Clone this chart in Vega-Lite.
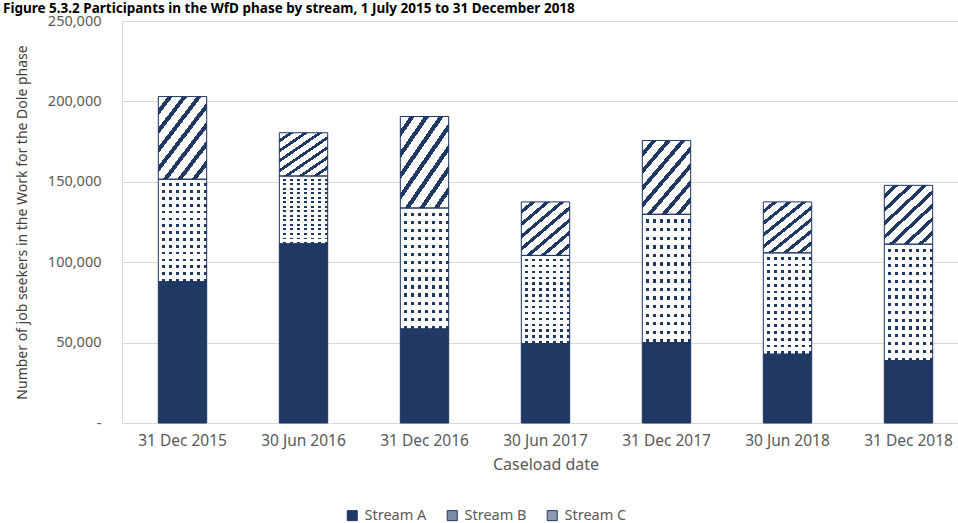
{
  "$schema": "https://vega.github.io/schema/vega-lite/v6.json",
  "autosize": "none",
  "padding": {"left": 122, "top": 21, "right": 0, "bottom": 100},
  "width": 836,
  "height": 402,
  "background": "white",
  "title": {
    "text": "Figure 5.3.2 Participants in the WfD phase by stream, 1 July 2015 to 31 December 2018",
    "anchor": "start",
    "frame": "group",
    "orient": "top",
    "offset": 0,
    "baseline": "alphabetic",
    "dx": -119,
    "dy": 13,
    "font": "Noto Sans",
    "fontSize": 13.5,
    "fontWeight": "bold",
    "color": "#000000"
  },
  "config": {
    "view": {"stroke": null},
    "font": "Noto Sans"
  },
  "data": {
    "values": [
      {"date": "31 Dec 2015", "stream": "Stream A", "value": 87800},
      {"date": "31 Dec 2015", "stream": "Stream B", "value": 63800},
      {"date": "31 Dec 2015", "stream": "Stream C", "value": 51400},
      {"date": "30 Jun 2016", "stream": "Stream A", "value": 111400},
      {"date": "30 Jun 2016", "stream": "Stream B", "value": 42200},
      {"date": "30 Jun 2016", "stream": "Stream C", "value": 26900},
      {"date": "31 Dec 2016", "stream": "Stream A", "value": 58500},
      {"date": "31 Dec 2016", "stream": "Stream B", "value": 75200},
      {"date": "31 Dec 2016", "stream": "Stream C", "value": 56900},
      {"date": "30 Jun 2017", "stream": "Stream A", "value": 49400},
      {"date": "30 Jun 2017", "stream": "Stream B", "value": 54800},
      {"date": "30 Jun 2017", "stream": "Stream C", "value": 33300},
      {"date": "31 Dec 2017", "stream": "Stream A", "value": 50000},
      {"date": "31 Dec 2017", "stream": "Stream B", "value": 79800},
      {"date": "31 Dec 2017", "stream": "Stream C", "value": 45900},
      {"date": "30 Jun 2018", "stream": "Stream A", "value": 42800},
      {"date": "30 Jun 2018", "stream": "Stream B", "value": 63000},
      {"date": "30 Jun 2018", "stream": "Stream C", "value": 31700},
      {"date": "31 Dec 2018", "stream": "Stream A", "value": 38800},
      {"date": "31 Dec 2018", "stream": "Stream B", "value": 72400},
      {"date": "31 Dec 2018", "stream": "Stream C", "value": 36600}
    ]
  },
  "transform": [
    {"stack": "value", "groupby": ["date"], "sort": [{"field": "stream", "order": "ascending"}], "as": ["y0", "y1"]}
  ],
  "encoding": {
    "x": {
      "field": "date",
      "type": "nominal",
      "sort": null,
      "scale": {"range": [0, 847], "paddingInner": 0.6, "paddingOuter": 0.3},
      "axis": {
        "title": "Caseload date",
        "labelAngle": 0,
        "labelFont": "Noto Sans",
        "labelFontSize": 15.5,
        "labelColor": "#595959",
        "labelPadding": 10,
        "ticks": false,
        "domainColor": "#d9d9d9",
        "domainWidth": 1,
        "titleFont": "Noto Sans",
        "titleFontSize": 16,
        "titleFontWeight": "normal",
        "titleColor": "#595959",
        "titlePadding": 8
      }
    },
    "y": {
      "field": "y1",
      "type": "quantitative",
      "scale": {"domain": [0, 250000]},
      "axis": {
        "title": "Number of job seekers in the Work for the Dole phase",
        "values": [0, 50000, 100000, 150000, 200000, 250000],
        "labelExpr": "datum.value === 0 ? '-' : format(datum.value, ',')",
        "labelFont": "Noto Sans",
        "labelFontSize": 14.5,
        "labelColor": "#595959",
        "labelPadding": 21,
        "ticks": false,
        "domain": true,
        "domainColor": "#d9d9d9",
        "gridColor": "#d9d9d9",
        "gridWidth": 1,
        "titleFont": "Noto Sans",
        "titleFontSize": 14,
        "titleFontWeight": "normal",
        "titleColor": "#404040",
        "titlePadding": 18
      }
    },
    "y2": {"field": "y0"}
  },
  "layer": [
    {
      "mark": {"type": "bar"},
      "encoding": {
        "color": {
          "field": "stream",
          "type": "nominal",
          "scale": {
            "domain": ["Stream A", "Stream B", "Stream C"],
            "range": ["#1f3864", "#7d8aa6", "#8f9bb3"]
          },
          "legend": {
            "title": null,
            "orient": "none",
            "direction": "horizontal",
            "legendX": 223,
            "legendY": 487,
            "symbolType": "square",
            "symbolSize": 100,
            "symbolStrokeColor": "#1f3864",
            "symbolStrokeWidth": 1,
            "labelFont": "Noto Sans",
            "labelFontSize": 14.5,
            "labelColor": "#595959",
            "labelOffset": 5,
            "columnPadding": 18
          }
        }
      }
    },
    {
      "transform": [{"filter": "datum.stream === 'Stream B'"}],
      "mark": {
        "type": "bar",
        "fill": {
          "gradient": "linear", "x1": 0, "y1": 0, "x2": 0, "y2": 1,
          "stops": [
            {"offset": 0, "color": "#ffffff"}, {"offset": 0.04, "color": "#ffffff"}, {"offset": 0.04, "color": "#1f3864"}, {"offset": 0.0667, "color": "#1f3864"},
            {"offset": 0.0667, "color": "#ffffff"}, {"offset": 0.1067, "color": "#ffffff"}, {"offset": 0.1067, "color": "#1f3864"}, {"offset": 0.1333, "color": "#1f3864"},
            {"offset": 0.1333, "color": "#ffffff"}, {"offset": 0.1733, "color": "#ffffff"}, {"offset": 0.1733, "color": "#1f3864"}, {"offset": 0.2, "color": "#1f3864"},
            {"offset": 0.2, "color": "#ffffff"}, {"offset": 0.24, "color": "#ffffff"}, {"offset": 0.24, "color": "#1f3864"}, {"offset": 0.2667, "color": "#1f3864"},
            {"offset": 0.2667, "color": "#ffffff"}, {"offset": 0.3067, "color": "#ffffff"}, {"offset": 0.3067, "color": "#1f3864"}, {"offset": 0.3333, "color": "#1f3864"},
            {"offset": 0.3333, "color": "#ffffff"}, {"offset": 0.3733, "color": "#ffffff"}, {"offset": 0.3733, "color": "#1f3864"}, {"offset": 0.4, "color": "#1f3864"},
            {"offset": 0.4, "color": "#ffffff"}, {"offset": 0.44, "color": "#ffffff"}, {"offset": 0.44, "color": "#1f3864"}, {"offset": 0.4667, "color": "#1f3864"},
            {"offset": 0.4667, "color": "#ffffff"}, {"offset": 0.5067, "color": "#ffffff"}, {"offset": 0.5067, "color": "#1f3864"}, {"offset": 0.5333, "color": "#1f3864"},
            {"offset": 0.5333, "color": "#ffffff"}, {"offset": 0.5733, "color": "#ffffff"}, {"offset": 0.5733, "color": "#1f3864"}, {"offset": 0.6, "color": "#1f3864"},
            {"offset": 0.6, "color": "#ffffff"}, {"offset": 0.64, "color": "#ffffff"}, {"offset": 0.64, "color": "#1f3864"}, {"offset": 0.6667, "color": "#1f3864"},
            {"offset": 0.6667, "color": "#ffffff"}, {"offset": 0.7067, "color": "#ffffff"}, {"offset": 0.7067, "color": "#1f3864"}, {"offset": 0.7333, "color": "#1f3864"},
            {"offset": 0.7333, "color": "#ffffff"}, {"offset": 0.7733, "color": "#ffffff"}, {"offset": 0.7733, "color": "#1f3864"}, {"offset": 0.8, "color": "#1f3864"},
            {"offset": 0.8, "color": "#ffffff"}, {"offset": 0.84, "color": "#ffffff"}, {"offset": 0.84, "color": "#1f3864"}, {"offset": 0.8667, "color": "#1f3864"},
            {"offset": 0.8667, "color": "#ffffff"}, {"offset": 0.9067, "color": "#ffffff"}, {"offset": 0.9067, "color": "#1f3864"}, {"offset": 0.9333, "color": "#1f3864"},
            {"offset": 0.9333, "color": "#ffffff"}, {"offset": 0.9733, "color": "#ffffff"}, {"offset": 0.9733, "color": "#1f3864"}, {"offset": 1, "color": "#1f3864"}
          ]
        }
      }
    },
    {
      "transform": [{"filter": "datum.stream === 'Stream B'"}],
      "mark": {
        "type": "bar",
        "fill": {
          "gradient": "linear", "x1": 0, "y1": 0, "x2": 1, "y2": 0,
          "stops": [
            {"offset": 0, "color": "#ffffff"}, {"offset": 0.0857, "color": "#ffffff"}, {"offset": 0.0857, "color": "rgba(255,255,255,0)"}, {"offset": 0.1429, "color": "rgba(255,255,255,0)"},
            {"offset": 0.1429, "color": "#ffffff"}, {"offset": 0.2286, "color": "#ffffff"}, {"offset": 0.2286, "color": "rgba(255,255,255,0)"}, {"offset": 0.2857, "color": "rgba(255,255,255,0)"},
            {"offset": 0.2857, "color": "#ffffff"}, {"offset": 0.3714, "color": "#ffffff"}, {"offset": 0.3714, "color": "rgba(255,255,255,0)"}, {"offset": 0.4286, "color": "rgba(255,255,255,0)"},
            {"offset": 0.4286, "color": "#ffffff"}, {"offset": 0.5143, "color": "#ffffff"}, {"offset": 0.5143, "color": "rgba(255,255,255,0)"}, {"offset": 0.5714, "color": "rgba(255,255,255,0)"},
            {"offset": 0.5714, "color": "#ffffff"}, {"offset": 0.6571, "color": "#ffffff"}, {"offset": 0.6571, "color": "rgba(255,255,255,0)"}, {"offset": 0.7143, "color": "rgba(255,255,255,0)"},
            {"offset": 0.7143, "color": "#ffffff"}, {"offset": 0.8, "color": "#ffffff"}, {"offset": 0.8, "color": "rgba(255,255,255,0)"}, {"offset": 0.8571, "color": "rgba(255,255,255,0)"},
            {"offset": 0.8571, "color": "#ffffff"}, {"offset": 0.9429, "color": "#ffffff"}, {"offset": 0.9429, "color": "rgba(255,255,255,0)"}, {"offset": 1, "color": "rgba(255,255,255,0)"}
          ]
        }
      }
    },
    {
      "transform": [{"filter": "datum.stream === 'Stream C'"}],
      "mark": {
        "type": "bar",
        "fill": {
          "gradient": "linear", "x1": 0, "y1": 0, "x2": 1, "y2": 1.3,
          "stops": [
            {"offset": 0, "color": "#ffffff"}, {"offset": 0.0722, "color": "#ffffff"}, {"offset": 0.0722, "color": "#1f3864"}, {"offset": 0.1111, "color": "#1f3864"},
            {"offset": 0.1111, "color": "#ffffff"}, {"offset": 0.1833, "color": "#ffffff"}, {"offset": 0.1833, "color": "#1f3864"}, {"offset": 0.2222, "color": "#1f3864"},
            {"offset": 0.2222, "color": "#ffffff"}, {"offset": 0.2944, "color": "#ffffff"}, {"offset": 0.2944, "color": "#1f3864"}, {"offset": 0.3333, "color": "#1f3864"},
            {"offset": 0.3333, "color": "#ffffff"}, {"offset": 0.4056, "color": "#ffffff"}, {"offset": 0.4056, "color": "#1f3864"}, {"offset": 0.4444, "color": "#1f3864"},
            {"offset": 0.4444, "color": "#ffffff"}, {"offset": 0.5167, "color": "#ffffff"}, {"offset": 0.5167, "color": "#1f3864"}, {"offset": 0.5556, "color": "#1f3864"},
            {"offset": 0.5556, "color": "#ffffff"}, {"offset": 0.6278, "color": "#ffffff"}, {"offset": 0.6278, "color": "#1f3864"}, {"offset": 0.6667, "color": "#1f3864"},
            {"offset": 0.6667, "color": "#ffffff"}, {"offset": 0.7389, "color": "#ffffff"}, {"offset": 0.7389, "color": "#1f3864"}, {"offset": 0.7778, "color": "#1f3864"},
            {"offset": 0.7778, "color": "#ffffff"}, {"offset": 0.85, "color": "#ffffff"}, {"offset": 0.85, "color": "#1f3864"}, {"offset": 0.8889, "color": "#1f3864"},
            {"offset": 0.8889, "color": "#ffffff"}, {"offset": 0.9611, "color": "#ffffff"}, {"offset": 0.9611, "color": "#1f3864"}, {"offset": 1, "color": "#1f3864"}
          ]
        }
      }
    },
    {
      "mark": {"type": "bar", "fill": "transparent", "stroke": "#1f3864", "strokeWidth": 1}
    }
  ]
}
